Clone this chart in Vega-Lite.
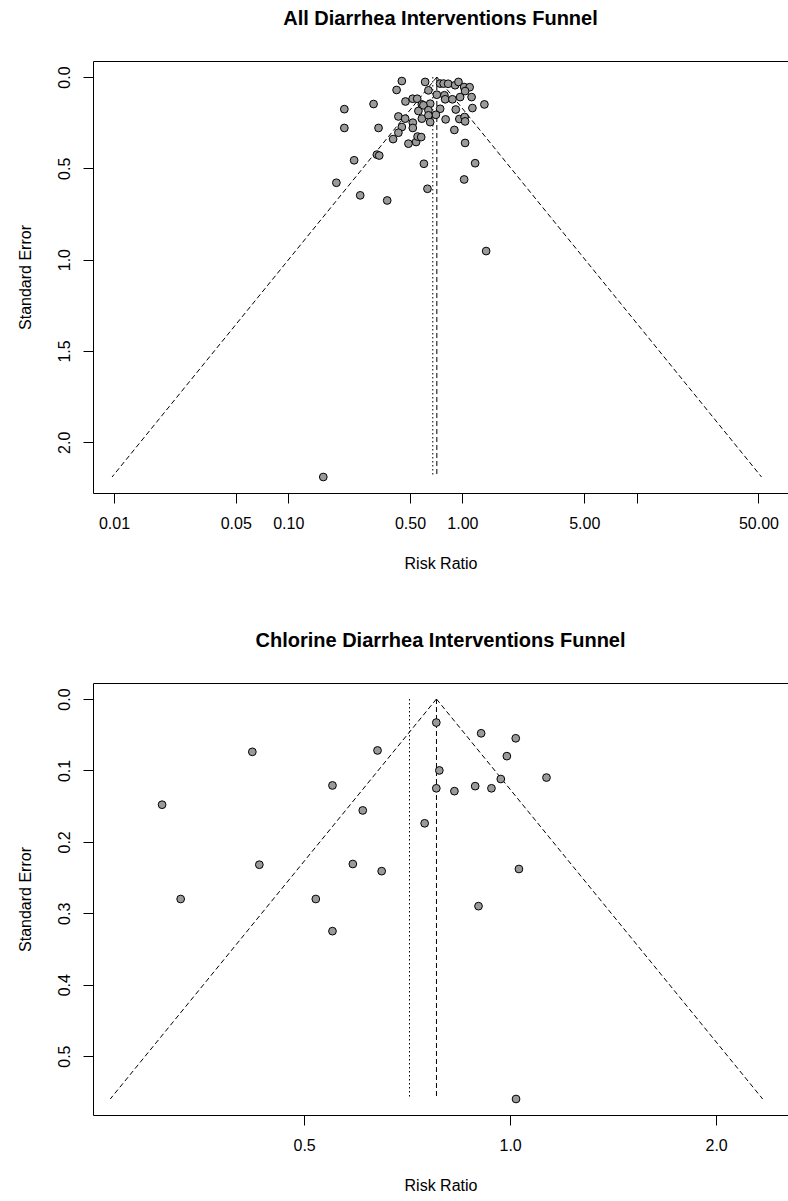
{
  "$schema": "https://vega.github.io/schema/vega-lite/v6.json",
  "background": "white",
  "padding": {"left": 17, "top": 9, "right": 0, "bottom": 0},
  "spacing": 60,
  "config": {
    "font": "Liberation Sans",
    "view": {"stroke": null},
    "axis": {
      "grid": false,
      "domainColor": "black",
      "domainWidth": 1,
      "tickColor": "black",
      "tickWidth": 1,
      "tickSize": 10,
      "labelColor": "black",
      "labelFont": "Liberation Sans",
      "labelFontSize": 16,
      "labelFlush": false,
      "labelOverlap": false,
      "labelBound": false,
      "titleColor": "black",
      "titleFont": "Liberation Sans",
      "titleFontSize": 16,
      "titleFontWeight": "normal"
    },
    "title": {
      "font": "Liberation Sans",
      "fontSize": 20,
      "fontWeight": "bold",
      "color": "black",
      "anchor": "middle",
      "frame": "group",
      "offset": 32
    }
  },
  "datasets": {
    "all_points": [
      {"rr": 0.449, "se": 0.022}, {"rr": 0.419, "se": 0.071}, {"rr": 0.611, "se": 0.027},
      {"rr": 0.638, "se": 0.073}, {"rr": 0.745, "se": 0.036}, {"rr": 0.780, "se": 0.036},
      {"rr": 0.828, "se": 0.037}, {"rr": 0.908, "se": 0.045}, {"rr": 0.949, "se": 0.027},
      {"rr": 1.023, "se": 0.055}, {"rr": 1.100, "se": 0.056}, {"rr": 0.309, "se": 0.148},
      {"rr": 0.210, "se": 0.176}, {"rr": 0.471, "se": 0.134}, {"rr": 0.518, "se": 0.119},
      {"rr": 0.550, "se": 0.119}, {"rr": 0.585, "se": 0.150}, {"rr": 0.559, "se": 0.186},
      {"rr": 0.429, "se": 0.216}, {"rr": 0.469, "se": 0.228}, {"rr": 0.519, "se": 0.250},
      {"rr": 0.585, "se": 0.228}, {"rr": 0.449, "se": 0.274}, {"rr": 0.519, "se": 0.279},
      {"rr": 0.210, "se": 0.279}, {"rr": 0.330, "se": 0.279}, {"rr": 0.429, "se": 0.305},
      {"rr": 0.400, "se": 0.340}, {"rr": 0.490, "se": 0.365}, {"rr": 0.542, "se": 0.356},
      {"rr": 0.553, "se": 0.326}, {"rr": 0.580, "se": 0.329}, {"rr": 0.323, "se": 0.425},
      {"rr": 0.333, "se": 0.430}, {"rr": 0.239, "se": 0.456}, {"rr": 0.189, "se": 0.579},
      {"rr": 0.259, "se": 0.648}, {"rr": 0.370, "se": 0.676}, {"rr": 0.601, "se": 0.475},
      {"rr": 0.630, "se": 0.612}, {"rr": 0.713, "se": 0.097}, {"rr": 0.788, "se": 0.100},
      {"rr": 0.796, "se": 0.122}, {"rr": 0.876, "se": 0.122}, {"rr": 0.970, "se": 0.110},
      {"rr": 1.036, "se": 0.077}, {"rr": 1.129, "se": 0.110}, {"rr": 1.337, "se": 0.150},
      {"rr": 1.141, "se": 0.170}, {"rr": 0.653, "se": 0.146}, {"rr": 0.597, "se": 0.155},
      {"rr": 0.745, "se": 0.174}, {"rr": 0.916, "se": 0.178}, {"rr": 0.638, "se": 0.182},
      {"rr": 0.704, "se": 0.207}, {"rr": 0.638, "se": 0.210}, {"rr": 0.653, "se": 0.247},
      {"rr": 0.801, "se": 0.232}, {"rr": 0.960, "se": 0.230}, {"rr": 1.029, "se": 0.219},
      {"rr": 1.036, "se": 0.243}, {"rr": 0.899, "se": 0.290}, {"rr": 1.036, "se": 0.361},
      {"rr": 1.183, "se": 0.472}, {"rr": 1.023, "se": 0.561}, {"rr": 1.368, "se": 0.953},
      {"rr": 0.159, "se": 2.190}
    ],
    "all_lines": [
      {"line": "ci", "rr": 0.713, "se": 0, "rr_end": 0.00975, "se_end": 2.19},
      {"line": "ci", "rr": 0.713, "se": 0, "rr_end": 52.1, "se_end": 2.19},
      {"line": "summary", "rr": 0.713, "se": 0, "rr_end": 0.713, "se_end": 2.19},
      {"line": "adjusted", "rr": 0.676, "se": 0, "rr_end": 0.676, "se_end": 2.19}
    ],
    "chlorine_points": [
      {"rr": 0.420, "se": 0.074}, {"rr": 0.550, "se": 0.121}, {"rr": 0.310, "se": 0.148},
      {"rr": 0.430, "se": 0.232}, {"rr": 0.330, "se": 0.280}, {"rr": 0.520, "se": 0.280},
      {"rr": 0.550, "se": 0.325}, {"rr": 0.589, "se": 0.231}, {"rr": 0.780, "se": 0.033},
      {"rr": 0.907, "se": 0.048}, {"rr": 1.019, "se": 0.055}, {"rr": 0.640, "se": 0.072},
      {"rr": 0.989, "se": 0.080}, {"rr": 0.788, "se": 0.100}, {"rr": 0.969, "se": 0.112},
      {"rr": 1.130, "se": 0.110}, {"rr": 0.780, "se": 0.125}, {"rr": 0.829, "se": 0.129},
      {"rr": 0.889, "se": 0.122}, {"rr": 0.939, "se": 0.125}, {"rr": 0.609, "se": 0.156},
      {"rr": 0.750, "se": 0.174}, {"rr": 0.649, "se": 0.241}, {"rr": 1.030, "se": 0.238},
      {"rr": 0.899, "se": 0.290}, {"rr": 1.020, "se": 0.560}
    ],
    "chlorine_lines": [
      {"line": "ci", "rr": 0.7804, "se": 0, "rr_end": 0.2604, "se_end": 0.56},
      {"line": "ci", "rr": 0.7804, "se": 0, "rr_end": 2.339, "se_end": 0.56},
      {"line": "summary", "rr": 0.7804, "se": 0, "rr_end": 0.7804, "se_end": 0.56},
      {"line": "adjusted", "rr": 0.7127, "se": 0, "rr_end": 0.7127, "se_end": 0.56}
    ]
  },
  "vconcat": [
    {
      "width": 695,
      "height": 432,
      "title": {"text": "All Diarrhea Interventions Funnel"},
      "layer": [
        {
          "data": {"name": "all_lines"},
          "mark": {"type": "rule", "color": "black", "strokeWidth": 1},
          "encoding": {
            "x": {
              "field": "rr", "type": "quantitative",
              "scale": {"type": "log", "domain": [0.00758, 73.9], "nice": false, "zero": false},
              "axis": {"orient": "top", "labels": false, "ticks": false, "title": null, "domain": true}
            },
            "x2": {"field": "rr_end"},
            "y": {
              "field": "se", "type": "quantitative",
              "scale": {"domain": [-0.0876, 2.2776], "reverse": true, "nice": false, "zero": false},
              "axis": {
                "values": [0, 0.5, 1, 1.5, 2], "format": ".1f",
                "labelAngle": -90, "labelAlign": "center", "labelBaseline": "alphabetic",
                "labelPadding": 14, "title": "Standard Error", "titlePadding": 23
              }
            },
            "y2": {"field": "se_end"},
            "strokeDash": {
              "field": "line", "type": "nominal",
              "scale": {"domain": ["ci", "summary", "adjusted"], "range": [[5, 3], [5, 3], [1.5, 2.5]]},
              "legend": null
            }
          }
        },
        {
          "data": {"name": "all_points"},
          "mark": {"type": "circle", "color": "#9a9a9a", "opacity": 1, "stroke": "black", "strokeWidth": 1, "size": 60},
          "encoding": {
            "x": {
              "field": "rr", "type": "quantitative",
              "axis": {
                "orient": "bottom",
                "values": [0.01, 0.05, 0.1, 0.5, 1, 5, 10, 50],
                "labelExpr": "datum.value == 10 ? '' : format(datum.value, '.2f')",
                "labelPadding": 12, "title": "Risk Ratio", "titlePadding": 24
              }
            },
            "y": {"field": "se", "type": "quantitative"}
          }
        }
      ],
      "resolve": {"axis": {"x": "independent"}}
    },
    {
      "width": 695,
      "height": 432,
      "title": {"text": "Chlorine Diarrhea Interventions Funnel"},
      "layer": [
        {
          "data": {"name": "chlorine_lines"},
          "mark": {"type": "rule", "color": "black", "strokeWidth": 1},
          "encoding": {
            "x": {
              "field": "rr", "type": "quantitative",
              "scale": {"type": "log", "domain": [0.2457, 2.547], "nice": false, "zero": false},
              "axis": {"orient": "top", "labels": false, "ticks": false, "title": null, "domain": true}
            },
            "x2": {"field": "rr_end"},
            "y": {
              "field": "se", "type": "quantitative",
              "scale": {"domain": [-0.0224, 0.5824], "reverse": true, "nice": false, "zero": false},
              "axis": {
                "values": [0, 0.1, 0.2, 0.3, 0.4, 0.5], "format": ".1f",
                "labelAngle": -90, "labelAlign": "center", "labelBaseline": "alphabetic",
                "labelPadding": 14, "title": "Standard Error", "titlePadding": 23
              }
            },
            "y2": {"field": "se_end"},
            "strokeDash": {
              "field": "line", "type": "nominal",
              "scale": {"domain": ["ci", "summary", "adjusted"], "range": [[5, 3], [5, 3], [1.5, 2.5]]},
              "legend": null
            }
          }
        },
        {
          "data": {"name": "chlorine_points"},
          "mark": {"type": "circle", "color": "#9a9a9a", "opacity": 1, "stroke": "black", "strokeWidth": 1, "size": 60},
          "encoding": {
            "x": {
              "field": "rr", "type": "quantitative",
              "axis": {
                "orient": "bottom",
                "values": [0.5, 1, 2], "format": ".1f",
                "labelPadding": 12, "title": "Risk Ratio", "titlePadding": 24
              }
            },
            "y": {"field": "se", "type": "quantitative"}
          }
        }
      ],
      "resolve": {"axis": {"x": "independent"}}
    }
  ]
}
